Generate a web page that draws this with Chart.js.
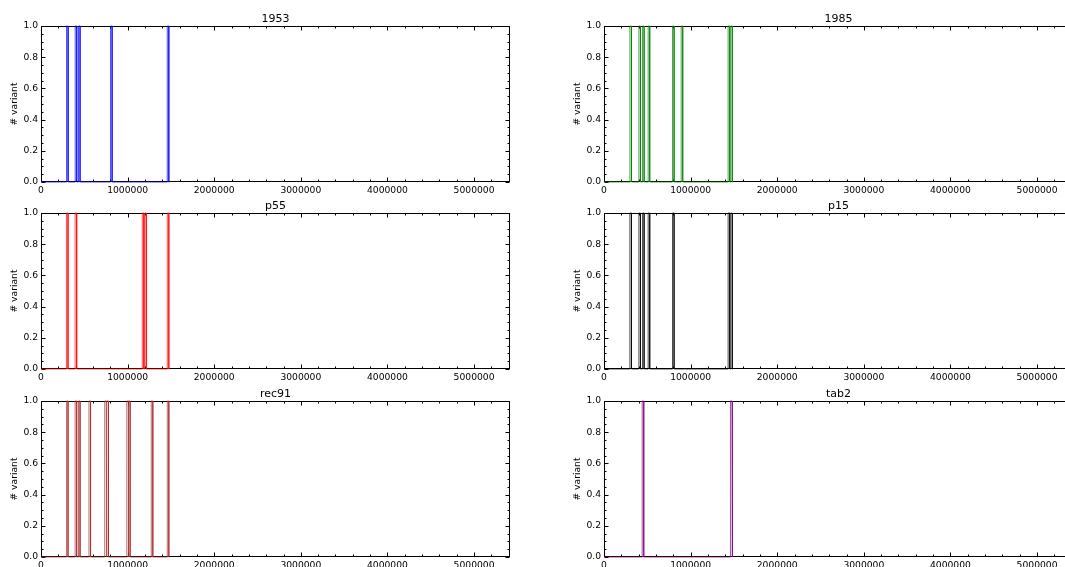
<!DOCTYPE html>
<html>
<head>
<meta charset="utf-8">
<script src="https://cdn.jsdelivr.net/npm/chart.js@4/dist/chart.umd.min.js"></script>
<style>
  html, body { margin: 0; padding: 0; background: #fff; overflow: hidden; }
  body { width: 1065px; height: 567px; position: relative; }
  canvas { position: absolute; }
</style>
</head>
<body>
<script>
// variant sites (bp) per strain
const sites1953 = [304000, 404000, 442000, 812000, 1467000];
const sites1985 = [308000, 412000, 454000, 519000, 800000, 900000, 1442000, 1473000];
const sitesP55 = [303000, 403000, 1178000, 1207000, 1467000];
const sitesP15 = [308000, 412000, 454000, 519000, 800000, 1442000, 1473000];
const sitesRec91 = [303000, 403000, 442000, 563000, 745000, 770000, 1000000, 1020000, 1282000, 1467000];
const sitesTab2 = [450000, 1469000];

const xTickValues = [0, 1000000, 2000000, 3000000, 4000000, 5000000];
const yTickValues = [0, 0.2, 0.4, 0.6, 0.8, 1.0];
const genomeEnd = 5415000;
const halfWidth = 9000;

const panels = [
  { title: '1953', sites: sites1953, color: 'rgba(0,0,255,0.7)', col: 0, row: 0 },
  { title: '1985', sites: sites1985, color: 'rgba(0,128,0,0.7)', col: 1, row: 0 },
  { title: 'p55', sites: sitesP55, color: 'rgba(255,0,0,0.7)', col: 0, row: 1 },
  { title: 'p15', sites: sitesP15, color: 'rgba(0,0,0,0.7)', col: 1, row: 1 },
  { title: 'rec91', sites: sitesRec91, color: 'rgba(165,42,42,0.7)', col: 0, row: 2 },
  { title: 'tab2', sites: sitesTab2, color: 'rgba(128,0,128,0.7)', col: 1, row: 2 }
];

const rowTops = [26, 213, 401];
const colLeft = [0, 560];
const colWidth = [540, 520];
const axisW = [41, 44];
const plotW = 469, plotH = 156, topPad = 26, canvasH = 202;
const FONT = 'DejaVu Sans';

// each site becomes a narrow 0 -> 1 -> 0 pulse on a zero baseline
function pulses(sites) {
  const pts = [{ x: 0, y: 0 }];
  sites.forEach(s => {
    pts.push({ x: s - halfWidth, y: 0 }, { x: s - halfWidth, y: 1 },
             { x: s + halfWidth, y: 1 }, { x: s + halfWidth, y: 0 });
  });
  pts.push({ x: sites[sites.length - 1] + 2 * halfWidth, y: 0 });
  return pts;
}

// matplotlib-style frame with inward ticks, title and y label
const framePlugin = {
  id: 'frame',
  beforeDatasetsDraw(chart) {
    const { ctx, chartArea: a, scales: { x, y } } = chart;
    const L = Math.round(a.left) + 0.5, R = Math.round(a.right) - 0.5;
    const T = Math.round(a.top) + 0.5, B = Math.round(a.bottom) - 0.5;
    ctx.save();
    ctx.strokeStyle = '#000';
    ctx.lineWidth = 1;
    ctx.strokeRect(L, T, R - L, B - T);
    ctx.beginPath();
    for (let v = 0; v <= genomeEnd; v += 200000) {
      const px = Math.round(x.getPixelForValue(v)) + 0.5;
      const len = v % 1000000 === 0 ? 4 : 2;
      ctx.moveTo(px, B); ctx.lineTo(px, B - len);
      ctx.moveTo(px, T); ctx.lineTo(px, T + len);
    }
    for (let i = 0; i <= 20; i++) {
      const py = Math.round(y.getPixelForValue(i * 0.05)) + 0.5;
      const len = i % 4 === 0 ? 4 : 2;
      ctx.moveTo(L, py); ctx.lineTo(L + len, py);
      ctx.moveTo(R, py); ctx.lineTo(R - len, py);
    }
    ctx.stroke();
    ctx.fillStyle = '#000';
    ctx.textAlign = 'center';
    ctx.textBaseline = 'alphabetic';
    ctx.font = '11px "' + FONT + '"';
    ctx.fillText(chart.options.plugins.frame.title, (a.left + a.right) / 2, a.top - 4);
    ctx.font = '9.2px "' + FONT + '"';
    ctx.translate(a.left - 26, (a.top + a.bottom) / 2);
    ctx.rotate(-Math.PI / 2);
    ctx.textBaseline = 'middle';
    ctx.fillText('# variant', 0, 0);
    ctx.restore();
  }
};

panels.forEach(p => {
  const canvas = document.createElement('canvas');
  const W = colWidth[p.col];
  canvas.width = W;
  canvas.height = canvasH;
  canvas.style.left = colLeft[p.col] + 'px';
  canvas.style.top = (rowTops[p.row] - topPad) + 'px';
  document.body.appendChild(canvas);

  new Chart(canvas.getContext('2d'), {
    type: 'line',
    data: {
      datasets: [{
        data: pulses(p.sites),
        borderColor: p.color,
        borderWidth: 1,
        pointRadius: 0,
        tension: 0,
        fill: false,
        clip: 2
      }]
    },
    options: {
      responsive: false,
      animation: false,
      devicePixelRatio: 1,
      layout: { padding: { top: topPad, right: W - axisW[p.col] - plotW, left: 0, bottom: 0 } },
      plugins: {
        legend: { display: false },
        tooltip: { enabled: false },
        frame: { title: p.title }
      },
      scales: {
        x: {
          type: 'linear',
          min: 0,
          max: genomeEnd,
          afterBuildTicks: s => { s.ticks = xTickValues.map(v => ({ value: v })); },
          afterFit: s => { s.height = canvasH - topPad - plotH; },
          grid: { display: false, drawTicks: false },
          border: { display: false },
          ticks: {
            color: '#000',
            padding: 3,
            maxRotation: 0,
            autoSkip: false,
            font: { family: FONT, size: 9.2 },
            callback: v => String(v)
          }
        },
        y: {
          min: 0,
          max: 1,
          afterBuildTicks: s => { s.ticks = yTickValues.map(v => ({ value: v })); },
          afterFit: s => { s.width = axisW[p.col]; },
          grid: { display: false, drawTicks: false },
          border: { display: false },
          ticks: {
            color: '#000',
            padding: 3,
            font: { family: FONT, size: 9.2 },
            callback: v => v.toFixed(1)
          }
        }
      }
    },
    plugins: [framePlugin]
  });
});
</script>
</body>
</html>
